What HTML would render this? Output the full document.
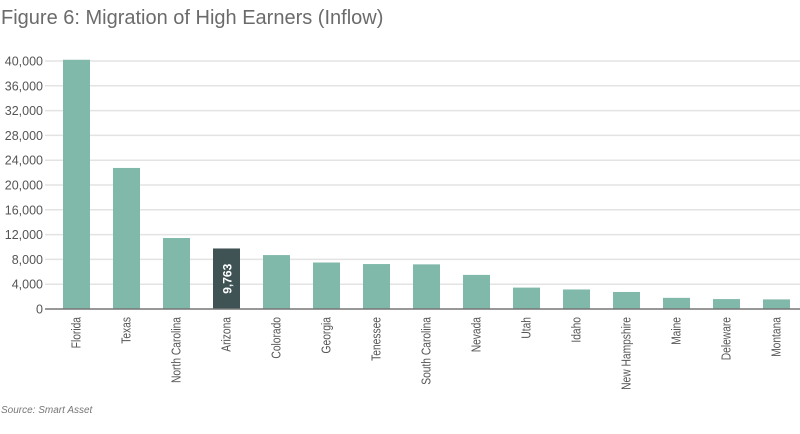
<!DOCTYPE html>
<html><head><meta charset="utf-8"><style>
body{margin:0;background:#fff;width:800px;height:429px;overflow:hidden}
text{font-family:"Liberation Sans",sans-serif}
</style></head><body>
<svg id="c" width="800" height="429">
<text x="1" y="24" font-size="20" fill="#6b6b6b">Figure 6: Migration of High Earners (Inflow)</text>
<text x="1" y="413" font-size="10" font-style="italic" fill="#777">Source: Smart Asset</text>
</svg>
<script>
const categories=["Florida","Texas","North Carolina","Arizona","Colorado","Georgia","Tenessee","South Carolina","Nevada","Utah","Idaho","New Hampshire","Maine","Deleware","Montana"];
const values=[40200,22750,11450,9763,8700,7500,7250,7200,5500,3450,3150,2750,1800,1600,1550];
const ticks=[0,4000,8000,12000,16000,20000,24000,28000,32000,36000,40000];
const tickLabels=["0","4,000","8,000","12,000","16,000","20,000","24,000","28,000","32,000","36,000","40,000"];
const highlight="Arizona";
const svg=document.getElementById('c');const NS="http://www.w3.org/2000/svg";
const y0=309,ppu=248/40000,x0=51.5,step=50,bw=27;
const y=v=>y0-v*ppu, xc=i=>x0+step*(i+0.5);
function mk(t,a){const e=document.createElementNS(NS,t);for(const k in a)e.setAttribute(k,a[k]);svg.appendChild(e);return e;}
ticks.forEach((t,i)=>{
 if(t>0){const g=mk('line',{x1:45,x2:800,y1:y(t),y2:y(t),stroke:'#e3e3e3','stroke-width':1.5});
 
 }
 const l=mk('text',{x:43,y:y(t)+4.5,'text-anchor':'end','font-size':12.5,fill:'#555'});l.textContent=tickLabels[i];
 
 
});
categories.forEach((c,i)=>{
 const hi=c===highlight;
 const r=mk('rect',{x:xc(i)-bw/2,y:y(values[i]),width:bw,height:y0-y(values[i]),fill:hi?'#3f5254':'#80b9aa'});
 
 
 if(hi){const v=mk('text',{transform:`translate(${xc(i)+5},${(y(values[i])+y0)/2}) rotate(-90)`,'text-anchor':'middle','font-size':12,'font-weight':'bold',fill:'#fff'});v.textContent=values[i].toLocaleString('en-US');
 
 }
 const t=mk('text',{transform:`translate(${xc(i)+4},317) rotate(-90) scale(0.82,1)`,'text-anchor':'end','font-size':12.5,fill:'#555'});t.textContent=c;
 
 
});
const ax=mk('line',{x1:45,x2:800,y1:y0,y2:y0,stroke:'#777','stroke-width':1.5});


</script>
</body></html>
